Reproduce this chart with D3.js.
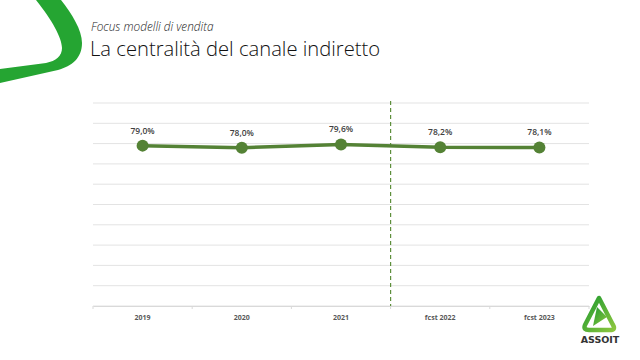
<!DOCTYPE html>
<html>
<head>
<meta charset="utf-8">
<script src="https://cdn.jsdelivr.net/npm/d3@7"></script>
<style>
  body { margin: 0; background: #fff; }
  svg { display: block; font-family: "Open Sans", "Noto Sans", sans-serif; }
</style>
</head>
<body>
<div id="chart"></div>
<script>
// dati
var categories = ["2019", "2020", "2021", "fcst 2022", "fcst 2023"];
var values = [79.0, 78.0, 79.6, 78.2, 78.1];
var valueLabels = ["79,0%", "78,0%", "79,6%", "78,2%", "78,1%"];
var yTicks = [0, 10, 20, 30, 40, 50, 60, 70, 80, 90, 100];
var forecastFrom = "fcst 2022";

var W = 640, H = 360;
var svg = d3.select("#chart").append("svg").attr("width", W).attr("height", H);

// swoosh verde in alto a sinistra
svg.append("path")
  .attr("d", "M61,0 C72,14 82,30 82,43 C82,58 72,66 58,70 L0,83 L0,69 L46,63 C56,61 62,56 62,48 C62,38 52,20 36,0 Z")
  .attr("fill", "#25a532");

// titoli
svg.append("text").attr("x", 91).attr("y", 30.5)
  .attr("font-size", 11.8).attr("font-style", "italic").attr("fill", "#222")
  .attr("font-weight", 300)
  .text("Focus modelli di vendita");
svg.append("text").attr("x", 90).attr("y", 56)
  .attr("font-size", 20.2).attr("fill", "#111").attr("font-weight", 300)
  .text("La centralità del canale indiretto");

// scale
var x = d3.scaleBand().domain(categories).range([93, 589]).padding(0);
var y = d3.scaleLinear().domain([0, 100]).range([306, 103]);

// griglia
svg.append("g").selectAll("line").data(yTicks).enter()
  .append("line")
    .attr("x1", 93).attr("x2", 589)
    .attr("y1", function(d) { return y(d); })
    .attr("y2", function(d) { return y(d); })
    .attr("stroke", "#e3e3e3").attr("stroke-width", 1);

// asse x
var xAxis = svg.append("g")
  .attr("transform", "translate(0," + y(0) + ")")
  .call(d3.axisBottom(x).tickSize(0).tickPadding(9));
xAxis.select(".domain").attr("stroke", "#d9d9d9");
xAxis.selectAll("text")
  .attr("font-size", 7).attr("font-weight", "bold").attr("fill", "#595959")
  .attr("font-family", "Open Sans, sans-serif");

// tacche tra le categorie
svg.append("g").selectAll("line").data(categories.concat(["end"])).enter()
  .append("line")
    .attr("x1", function(d, i) { return x.range()[0] + i * x.bandwidth(); })
    .attr("x2", function(d, i) { return x.range()[0] + i * x.bandwidth(); })
    .attr("y1", y(0)).attr("y2", y(0) + 3)
    .attr("stroke", "#d9d9d9");

// linea tratteggiata previsioni
var xf = x(forecastFrom);
svg.append("line")
  .attr("x1", xf).attr("x2", xf)
  .attr("y1", y(100) - 2).attr("y2", y(0))
  .attr("stroke", "#5e8f3c").attr("stroke-width", 1.2)
  .attr("stroke-dasharray", "4,3");

// linea
var line = d3.line()
  .x(function(d, i) { return x(categories[i]) + x.bandwidth() / 2; })
  .y(function(d) { return y(d); });

svg.append("path").datum(values)
  .attr("d", line)
  .attr("fill", "none")
  .attr("stroke", "#548235")
  .attr("stroke-width", 3.5);

svg.append("g").selectAll("circle").data(values).enter()
  .append("circle")
    .attr("cx", function(d, i) { return x(categories[i]) + x.bandwidth() / 2; })
    .attr("cy", function(d) { return y(d); })
    .attr("r", 6)
    .attr("fill", "#548235");

svg.append("g").selectAll("text").data(values).enter()
  .append("text")
    .attr("x", function(d, i) { return x(categories[i]) + x.bandwidth() / 2; })
    .attr("y", function(d) { return y(d) - 12; })
    .attr("text-anchor", "middle")
    .attr("font-size", 8.5).attr("font-weight", 600).attr("fill", "#404040")
    .text(function(d, i) { return valueLabels[i]; });

// logo ASSOIT
var defs = svg.append("defs");
var grad = defs.append("linearGradient").attr("id", "lg").attr("x1", "0").attr("y1", "0").attr("x2", "1").attr("y2", "1");
grad.append("stop").attr("offset", "0").attr("stop-color", "#1f9a2e");
grad.append("stop").attr("offset", "1").attr("stop-color", "#8cc63f");

var logo = svg.append("g");
logo.append("path")
  .attr("d", "M599,298 L585,325 Q583,330 589,330 L610,330 Q616,330 613,325 Z")
  .attr("fill", "none").attr("stroke", "url(#lg)").attr("stroke-width", 4.5)
  .attr("stroke-linejoin", "round");
logo.append("path")
  .attr("d", "M597,307 L607,317 L593,326 Z")
  .attr("fill", "url(#lg)");
logo.append("text").attr("x", 600).attr("y", 343)
  .attr("text-anchor", "middle").attr("font-size", 9.5).attr("font-weight", "bold")
  .attr("fill", "#333").attr("font-family", "DejaVu Sans, sans-serif")
  .text("ASSOIT");
</script>
</body>
</html>
